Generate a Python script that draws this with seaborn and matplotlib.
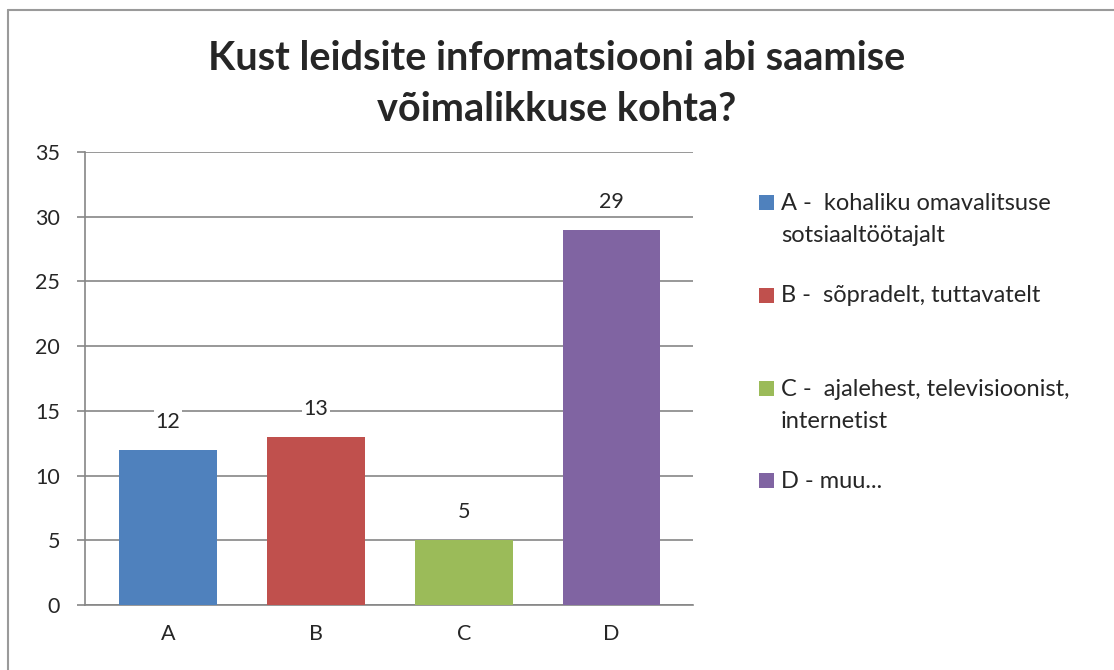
import matplotlib
matplotlib.use("Agg")
import matplotlib.pyplot as plt
import seaborn as sns
from matplotlib.patches import Rectangle
from matplotlib.lines import Line2D

# andmed
kategooriad = ["A", "B", "C", "D"]
vastused = [12, 13, 5, 29]
legendi_tekstid = [
    "A -  kohaliku omavalitsuse\nsotsiaaltöötajalt",
    "B -  sõpradelt, tuttavatelt",
    "C -  ajalehest, televisioonist,\ninternetist",
    "D - muu...",
]
varvid = ["#4F81BD", "#C0504D", "#9BBB59", "#8064A2"]
pealkiri = "Kust leidsite informatsiooni abi saamise\nvõimalikkuse kohta?"

sns.set_style("white")
plt.rcParams['font.family'] = ['Lato', 'DejaVu Sans']

W, H = 1114, 670
fig = plt.figure(figsize=(W / 100, H / 100), dpi=100)
ax = fig.add_axes([85 / W, 1 - 605 / H, 608 / W, 453 / H])

sns.barplot(x=kategooriad, y=vastused, hue=kategooriad, palette=varvid,
            width=0.66, saturation=1, legend=False, ax=ax, zorder=3,
            linewidth=0)

ax.set_ylim(0, 35)
ax.set_xlim(-0.56, 3.55)
ax.set_yticks(range(0, 36, 5))
ax.grid(axis="y", color="#868686", linewidth=1.2, zorder=0)
ax.set_axisbelow(True)
for s in ["top", "right"]:
    ax.spines[s].set_visible(False)
for s in ["left", "bottom"]:
    ax.spines[s].set_color("#868686")
    ax.spines[s].set_linewidth(1.2)
ax.tick_params(axis="y", length=6, color="#868686", width=1.2, labelsize=15.5, pad=12, left=True)
ax.tick_params(axis="x", length=0, labelsize=15.5, pad=14)
ax.set_xlabel("")
ax.set_ylabel("")

for cont in ax.containers:
    ax.bar_label(cont, fmt="%d", padding=13, fontsize=15.5,
                 bbox=dict(facecolor="white", edgecolor="none", pad=1))

fig.text(0.5, 1 - 84 / H, pealkiri, ha="center", va="center", fontsize=28.5,
         fontweight="bold", linespacing=1.45)

# legend (ruut esimese rea kõrgusel nagu Excelis)
legendi_y = [202, 295, 388, 480]
for tekst, varv, y in zip(legendi_tekstid, varvid, legendi_y):
    fig.add_artist(Rectangle((759 / W, 1 - (y + 7.5) / H), 15 / W, 15 / H,
                             transform=fig.transFigure, facecolor=varv, edgecolor="none"))
    fig.text(781 / W, 1 - (y - 9.5) / H, tekst, ha="left", va="top",
             fontsize=17, linespacing=1.7)

# diagrammi raam
fig.add_artist(Line2D([8 / W, 8 / W], [0, 1 - 10 / H], color="#9a9a9a", linewidth=1.5))
fig.add_artist(Line2D([8 / W, 1], [1 - 10 / H, 1 - 10 / H], color="#9a9a9a", linewidth=1.5))

fig.savefig("out.png", dpi=100)
